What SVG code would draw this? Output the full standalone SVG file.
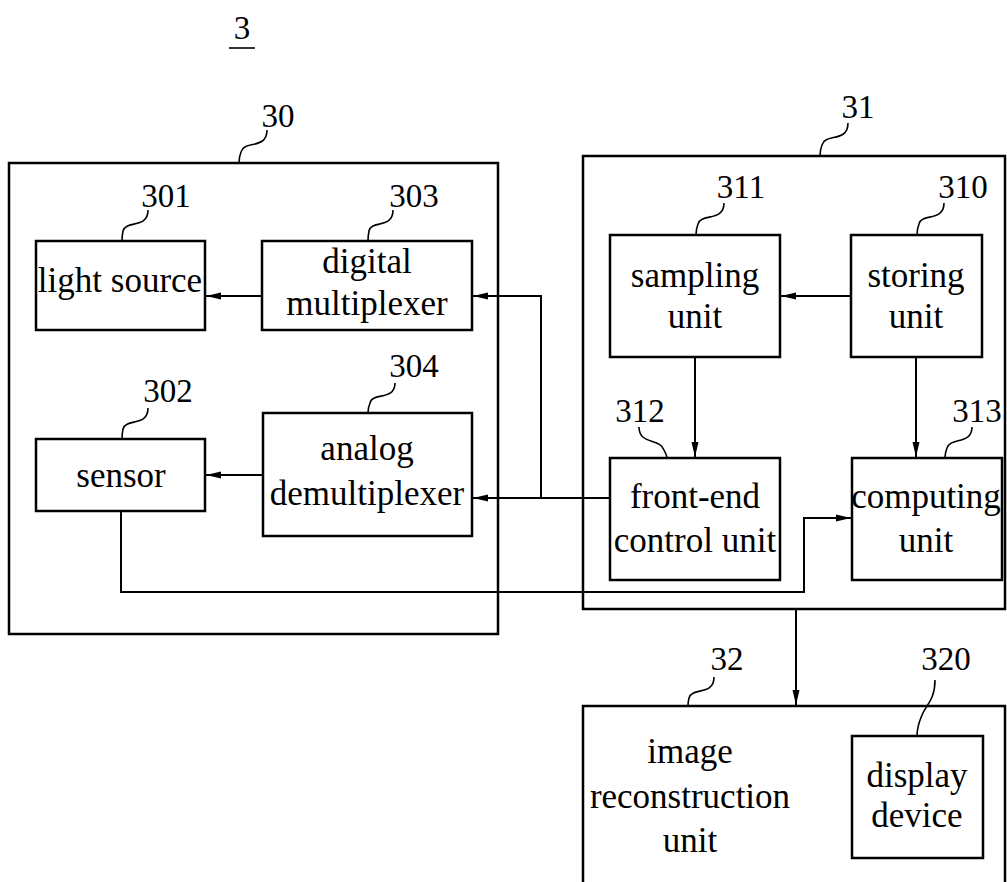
<svg xmlns="http://www.w3.org/2000/svg" width="1007" height="882" viewBox="0 0 1007 882">
<style>
.box{fill:none;stroke:#000;stroke-width:2.5}
.ln{fill:none;stroke:#000;stroke-width:2}
.ld{fill:none;stroke:#000;stroke-width:1.6}
.t{font-family:"Liberation Serif","Times New Roman",serif;font-size:35px;fill:#000;text-anchor:middle}
.n{font-family:"Liberation Serif","Times New Roman",serif;font-size:33px;fill:#000;text-anchor:middle}
</style>
<defs>
<marker id="ah" markerWidth="16" markerHeight="10" refX="15" refY="5" orient="auto" markerUnits="userSpaceOnUse">
<path d="M0,1.5 L15,5 L0,8.5 Z" fill="#000"/>
</marker>
</defs>
<rect width="1007" height="882" fill="#fff"/>
<g id="title">
<text class="n" x="242" y="39">3</text>
<line x1="229" y1="48" x2="255" y2="48" stroke="#000" stroke-width="1.6"/>
</g>
<g id="n30">
<rect class="box" x="9" y="163" width="489" height="471"/>
<text class="n" x="278" y="127">30</text>
<path class="ld" d="M267,130 C267,150 244,140 241,152 C239,157 239,160 239,163"/>
</g>
<g id="n31">
<rect class="box" x="583" y="156" width="422" height="453"/>
<text class="n" x="858" y="118">31</text>
<path class="ld" d="M848,123 C848,143 825,133 822,145 C820,150 820,153 820,156"/>
</g>
<g id="n32">
<path class="box" d="M583,890 L583,706 L1005,706 L1005,890"/>
<text class="n" x="727" y="670">32</text>
<text class="t" x="690" y="763">image</text>
<text class="t" x="690" y="808">reconstruction</text>
<text class="t" x="690" y="852">unit</text>
<path class="ld" d="M714,677 C714,696 692,687 689,698 C688,702 688,704 688,706"/>
</g>
<g id="n301">
<rect class="box" x="36" y="241" width="169" height="89"/>
<text class="t" x="120" y="292">light source</text>
<text class="n" x="166" y="207">301</text>
<path class="ld" d="M148,210 C148,229 126,220 123,231 C122,236 122,239 122,241"/>
</g>
<g id="n303">
<rect class="box" x="262" y="241" width="210" height="89"/>
<text class="t" x="367" y="273">digital</text>
<text class="t" x="367" y="315">multiplexer</text>
<text class="n" x="414" y="207">303</text>
<path class="ld" d="M393,210 C393,229 371,220 369,231 C368,236 368,239 368,241"/>
</g>
<g id="n302">
<rect class="box" x="36" y="439" width="169" height="72"/>
<text class="t" x="121" y="487">sensor</text>
<text class="n" x="168" y="402">302</text>
<path class="ld" d="M148,408 C148,427 126,418 123,429 C122,434 122,437 122,439"/>
</g>
<g id="n304">
<rect class="box" x="263" y="413" width="209" height="123"/>
<text class="t" x="367" y="460">analog</text>
<text class="t" x="367" y="505">demultiplexer</text>
<text class="n" x="414" y="377">304</text>
<path class="ld" d="M395,383 C395,401 372,392 370,403 C368,408 368,411 368,413"/>
</g>
<g id="n311">
<rect class="box" x="610" y="235" width="170" height="122"/>
<text class="t" x="695" y="287">sampling</text>
<text class="t" x="695" y="328">unit</text>
<text class="n" x="741" y="198">311</text>
<path class="ld" d="M724,203 C724,222 701,213 698,224 C696,229 696,232 696,235"/>
</g>
<g id="n310">
<rect class="box" x="851" y="235" width="131" height="122"/>
<text class="t" x="916" y="287">storing</text>
<text class="t" x="916" y="328">unit</text>
<text class="n" x="963" y="198">310</text>
<path class="ld" d="M944,203 C944,222 921,213 919,224 C917,229 917,232 917,235"/>
</g>
<g id="n312">
<rect class="box" x="610" y="458" width="170" height="122"/>
<text class="t" x="695" y="508">front-end</text>
<text class="t" x="695" y="552">control unit</text>
<text class="n" x="640" y="422">312</text>
<path class="ld" d="M639,427 C639,445 660,438 664,450 C666,454 667,456 667,458"/>
</g>
<g id="n313">
<rect class="box" x="852" y="458" width="150" height="122"/>
<text class="t" x="926" y="508">computing</text>
<text class="t" x="926" y="552">unit</text>
<text class="n" x="977" y="422">313</text>
<path class="ld" d="M972,427 C972,445 950,437 947,448 C945,453 945,456 945,458"/>
</g>
<g id="n320">
<rect class="box" x="852" y="736" width="131" height="122"/>
<text class="t" x="917" y="787">display</text>
<text class="t" x="917" y="827">device</text>
<text class="n" x="946" y="670">320</text>
<path class="ld" d="M935,680 C935,700 926,705 922,715 C919,722 917,728 917,736"/>
</g>
<g id="connectors">
<line class="ln" x1="262" y1="296" x2="206" y2="296" marker-end="url(#ah)"/>
<line class="ln" x1="263" y1="475" x2="206" y2="475" marker-end="url(#ah)"/>
<line class="ln" x1="610" y1="498" x2="473" y2="498" marker-end="url(#ah)"/>
<polyline class="ln" points="541,498 541,296 473,296" marker-end="url(#ah)"/>
<line class="ln" x1="851" y1="296" x2="781" y2="296" marker-end="url(#ah)"/>
<line class="ln" x1="695" y1="357" x2="695" y2="457" marker-end="url(#ah)"/>
<line class="ln" x1="916" y1="357" x2="916" y2="457" marker-end="url(#ah)"/>
<polyline class="ln" points="121,511 121,592 804,592 804,518 851,518" marker-end="url(#ah)"/>
<line class="ln" x1="796" y1="609" x2="796" y2="705" marker-end="url(#ah)"/>
</g>
</svg>
